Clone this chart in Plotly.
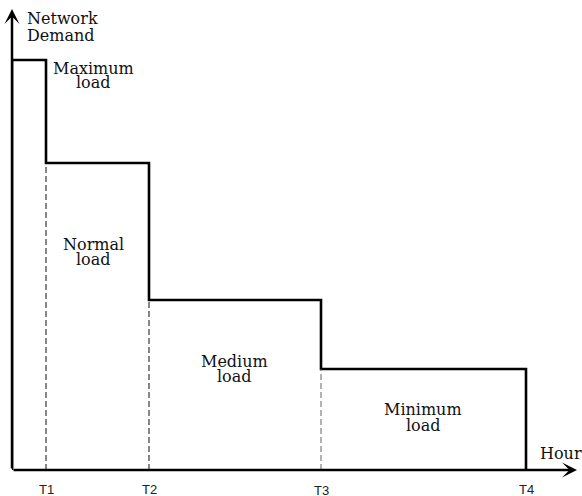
import plotly.graph_objects as go

# ---- data (arbitrary units: 1 unit ~ 1 px) ----
period_labels = ["T1", "T2", "T3", "T4"]
period_ends = [34, 137, 309, 514]          # hour positions of T1..T4
demand_levels = [410, 307, 170, 101]       # maximum, normal, medium, minimum
load_names = ["Maximum", "Normal", "Medium", "Minimum"]

SERIF = "DejaVu Serif"
SANS = "Liberation Sans"
Y_SPAN = 470

fig = go.Figure()

# step curve
xs, ys = [0], [0]
start = 0
for end, lvl in zip(period_ends, demand_levels):
    xs += [start, end]
    ys += [lvl, lvl]
    start = end
xs.append(period_ends[-1])
ys.append(0)
fig.add_trace(go.Scatter(x=xs, y=ys, mode="lines",
                         line=dict(color="black", width=2.6),
                         hoverinfo="skip", showlegend=False))

# dashed period separators
dash_colors = ["#111111", "#111111", "#666666"]
for i in range(3):
    fig.add_trace(go.Scatter(x=[period_ends[i], period_ends[i]],
                             y=[0, demand_levels[i + 1]], mode="lines",
                             line=dict(color=dash_colors[i], width=1, dash="6px,3px"),
                             hoverinfo="skip", showlegend=False))

ann = []
# axes with arrows
ann.append(dict(x=565, y=0, ax=0, ay=0, xref="x", yref="y", axref="x", ayref="y",
                text="", showarrow=True, arrowhead=3, arrowsize=1.0,
                arrowwidth=2.5, arrowcolor="black", standoff=0))
ann.append(dict(x=0, y=461, ax=0, ay=0, xref="x", yref="y", axref="x", ayref="y",
                text="", showarrow=True, arrowhead=3, arrowsize=1.0,
                arrowwidth=2.5, arrowcolor="black", standoff=0))

def txt(t, x, y, xanchor="center", size=16, family=SERIF, color="#111111", pad=1):
    ann.append(dict(x=x, y=y / Y_SPAN, xref="x", yref="paper", text=t, showarrow=False,
                    xanchor=xanchor, yanchor="middle", borderpad=pad,
                    font=dict(family=family, size=size, color=color)))

# axis titles
txt("Network", 13, 452, xanchor="left")
txt("Demand", 13, 435, xanchor="left")
txt("Hour", 526, 17, xanchor="left")

# load labels
label_pos = [(81, 402, 387), (81, 226, 211), (222, 109, 94), (411, 61, 45)]
for name, (lx, y1, y2) in zip(load_names, label_pos):
    txt(name, lx, y1)
    txt("load", lx, y2)

# period tick labels
tick_y = [-19, -19, -20, -19]
for lab, xe, ty in zip(period_labels, period_ends, tick_y):
    txt(lab, xe, ty, size=13, family=SANS, color="#222222", pad=0)

fig.update_layout(
    width=582, height=496,
    margin=dict(l=12, r=0, t=0, b=26, pad=0),
    paper_bgcolor="white", plot_bgcolor="white",
    xaxis=dict(range=[0, 570], visible=False, fixedrange=True),
    yaxis=dict(range=[0, Y_SPAN], visible=False, fixedrange=True),
    annotations=ann,
    showlegend=False,
)

fig.write_html("out.html", config={"displayModeBar": False},
               post_script="document.body.style.margin='0';")
